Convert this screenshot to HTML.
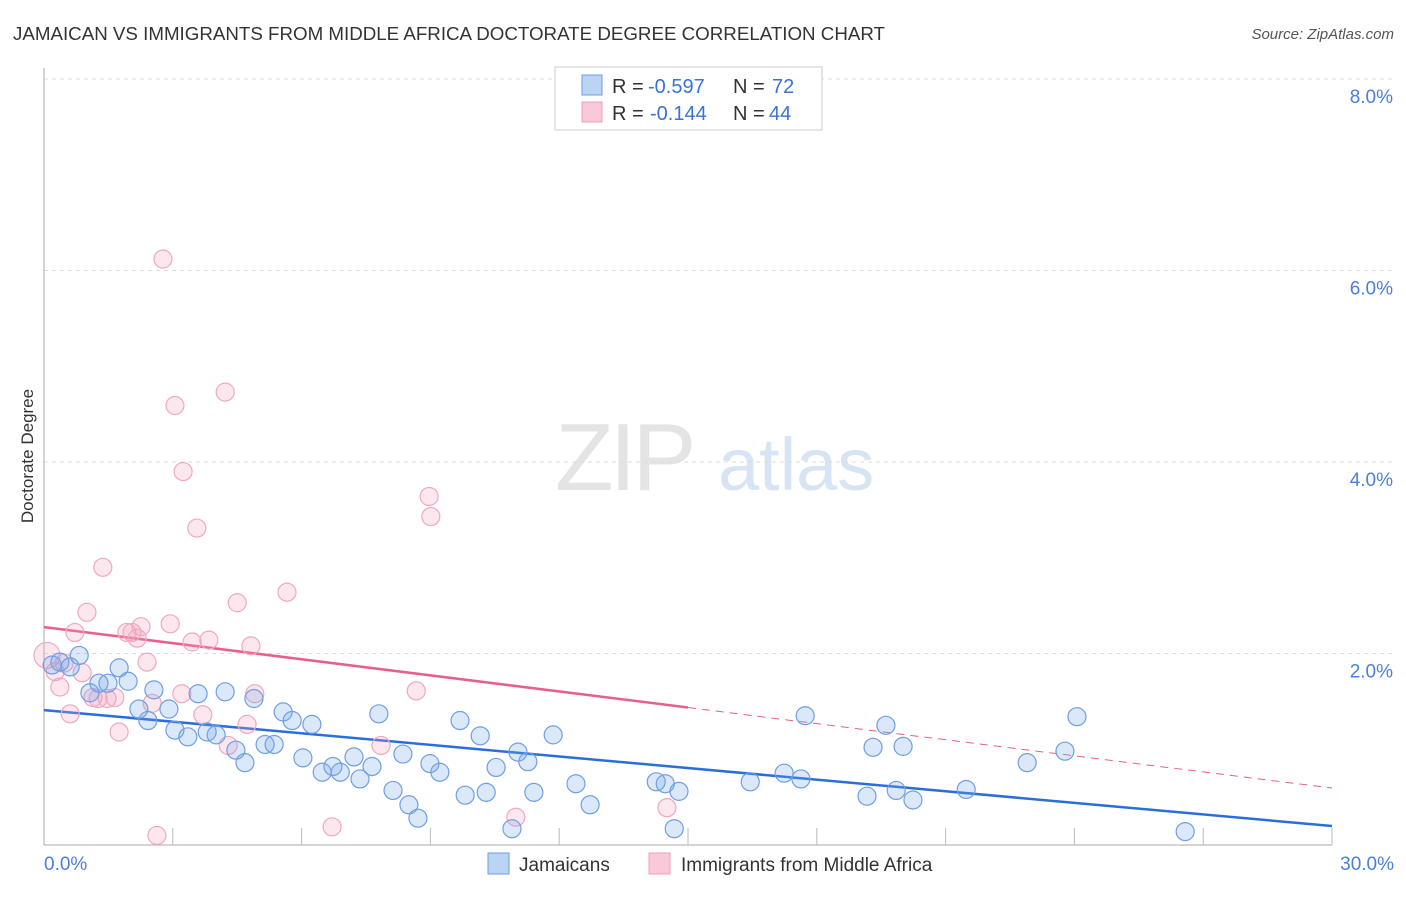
<!DOCTYPE html>
<html><head><meta charset="utf-8"><style>
body{margin:0;background:#fff;font-family:"Liberation Sans",sans-serif;}
svg text{font-family:"Liberation Sans",sans-serif;}
</style></head><body>
<svg id="chart" width="1406" height="892" viewBox="0 0 1406 892" xmlns="http://www.w3.org/2000/svg">
<text x="13" y="40" font-size="18" fill="#333" textLength="872" lengthAdjust="spacingAndGlyphs">JAMAICAN VS IMMIGRANTS FROM MIDDLE AFRICA DOCTORATE DEGREE CORRELATION CHART</text>
<text x="1394" y="39" font-size="15" fill="#555" text-anchor="end" font-style="italic">Source: ZipAtlas.com</text>
<g>
<text x="555" y="490" font-size="96" fill="#e4e4e4" font-family="Liberation Serif" letter-spacing="-4">ZIP</text>
<text x="718" y="490" font-size="74" fill="#d6e4f4">atlas</text>
</g>
<g id="grid"></g>
<g id="axes"></g>
<g id="lines"></g>
<g id="points"></g>
<text transform="translate(33,456) rotate(-90)" font-size="17" fill="#333" text-anchor="middle">Doctorate Degree</text>
<g>
<rect x="555" y="67" width="267" height="63" fill="#fff" stroke="#ccc"/>
<rect x="582" y="75" width="20" height="20" fill="#bcd4f4" stroke="#6a9be0"/>
<rect x="582" y="102" width="20" height="20" fill="#f9c9d7" stroke="#f0a0b8"/>
<text x="612" y="93" font-size="20" fill="#333">R =</text>
<text x="648" y="93" font-size="20" fill="#3a72d8">-0.597</text>
<text x="733" y="93" font-size="20" fill="#333">N =</text>
<text x="772" y="93" font-size="20" fill="#3a72d8">72</text>
<text x="612" y="120" font-size="20" fill="#333">R =</text>
<text x="650" y="120" font-size="20" fill="#3a72d8">-0.144</text>
<text x="733" y="120" font-size="20" fill="#333">N =</text>
<text x="769" y="120" font-size="20" fill="#3a72d8">44</text>
</g>
<g>
<rect x="488" y="853" width="21" height="21" fill="#bcd4f4" stroke="#6a9be0"/>
<text x="519" y="871" font-size="19" fill="#333">Jamaicans</text>
<rect x="649" y="853" width="21" height="21" fill="#f9c9d7" stroke="#f0a0b8"/>
<text x="681" y="871" font-size="19" fill="#333">Immigrants from Middle Africa</text>
</g>
</svg>
<script>
const xTickLabels=["0.0%","30.0%"];
const yTicks=[2,4,6,8];
const yTickLabels=["2.0%","4.0%","6.0%","8.0%"];
const blueX=[0.19,0.37,0.61,0.82,1.07,1.28,1.49,1.75,1.96,2.21,2.42,2.56,2.91,3.05,3.35,3.59,3.80,4.01,4.22,4.47,4.68,4.89,5.15,5.36,5.57,5.78,6.03,6.24,6.48,6.73,6.90,7.22,7.36,7.64,7.80,8.13,8.36,8.50,8.71,8.99,9.22,9.69,9.81,10.16,10.30,10.53,10.90,11.04,11.27,11.41,11.86,12.39,12.72,14.26,14.47,14.68,14.79,16.45,17.24,17.63,17.73,19.17,19.31,19.61,19.85,20.01,20.24,21.48,22.90,23.78,24.06,26.58];
const blueY=[1.88,1.91,1.86,1.98,1.59,1.69,1.69,1.85,1.71,1.42,1.30,1.62,1.42,1.20,1.13,1.58,1.18,1.15,1.60,0.99,0.86,1.53,1.05,1.05,1.39,1.30,0.91,1.26,0.76,0.82,0.76,0.92,0.69,0.82,1.37,0.57,0.95,0.42,0.28,0.85,0.76,1.30,0.52,1.14,0.55,0.81,0.17,0.97,0.87,0.55,1.15,0.64,0.42,0.66,0.64,0.17,0.56,0.66,0.75,0.69,1.35,0.51,1.02,1.25,0.57,1.03,0.47,0.58,0.86,0.98,1.34,0.14];
const pinkX=[0.07,0.26,0.37,0.61,0.72,1.00,0.89,1.14,1.26,1.37,1.47,1.65,1.75,1.93,2.05,2.17,2.26,2.40,2.52,2.63,2.77,2.94,3.05,3.21,3.24,3.45,3.56,3.70,3.84,4.22,4.29,4.50,4.73,4.82,4.91,5.66,6.71,7.85,8.67,8.97,9.01,10.99,14.51,0.47];
const pinkY=[1.98,1.81,1.65,1.37,2.22,2.43,1.80,1.54,1.53,2.90,1.53,1.54,1.18,2.22,2.22,2.16,2.28,1.91,1.48,0.10,6.12,2.31,4.59,1.58,3.90,2.12,3.31,1.36,2.14,4.73,1.04,2.53,1.26,2.08,1.58,2.64,0.19,1.04,1.61,3.64,3.43,0.29,0.39,1.90];
const blueTrend=[1.409,0.198];
const pinkTrend=[2.276,0.595];
const NS="http://www.w3.org/2000/svg";
const X0=44,X1=1332,Y0=845,Y8=79;
const sx=v=>X0+(v/30)*(X1-X0);
const sy=v=>Y0-(v/8)*(Y0-Y8);
function mk(tag,attrs,parent){const e=document.createElementNS(NS,tag);for(const k in attrs)e.setAttribute(k,attrs[k]);parent.appendChild(e);return e;}
const grid=document.getElementById('grid'),axes=document.getElementById('axes'),lines=document.getElementById('lines'),pts=document.getElementById('points');
yTicks.forEach((t,i)=>{
 const l=mk('line',{x1:X0,x2:1394,y1:sy(t),y2:sy(t),stroke:'#ddd','stroke-dasharray':'4,4'},grid);
 
 
 const tx=mk('text',{x:1393,y:sy(t)+24,'font-size':19,fill:'#4a7fdc','text-anchor':'end'},axes);
 tx.textContent=yTickLabels[i];
 
 
});
mk('line',{x1:X0,x2:X0,y1:68,y2:Y0,stroke:'#aaa'},axes);
mk('line',{x1:X0,x2:X1,y1:Y0,y2:Y0,stroke:'#aaa'},axes);
for(let v=3;v<=30;v+=3){
 const t=mk('line',{x1:sx(v),x2:sx(v),y1:828,y2:Y0,stroke:'#bbb'},axes);
 
 
}
[[0,'start',44],[30,'end',1394]].forEach((d,i)=>{
 const tx=mk('text',{x:d[2],y:870,'font-size':19,fill:'#4a7fdc','text-anchor':d[1]},axes);
 tx.textContent=xTickLabels[i];
 
 
});
function pt(x,y,fill,stroke,r,name){
 const c=mk('circle',{cx:sx(x),cy:sy(y),r:r,fill:fill,stroke:stroke,'stroke-width':1.2},pts);
 
 
}
pinkX.forEach((x,i)=>pt(x,pinkY[i],'rgba(244,160,188,0.25)','#f0a8c0',i===0?13:9,'point-middle-africa'));
blueX.forEach((x,i)=>pt(x,blueY[i],'rgba(110,165,235,0.25)','#6f9fe2',9,'point-jamaican'));
const tb=mk('line',{x1:sx(0),y1:sy(blueTrend[0]),x2:sx(30),y2:sy(blueTrend[1]),stroke:'#2a6fd8','stroke-width':2.5},lines);


const pm=v=>pinkTrend[0]+(pinkTrend[1]-pinkTrend[0])*v/30;
const tp=mk('line',{x1:sx(0),y1:sy(pm(0)),x2:sx(15),y2:sy(pm(15)),stroke:'#e8608a','stroke-width':2.5},lines);


const tpd=mk('line',{x1:sx(15),y1:sy(pm(15)),x2:sx(30),y2:sy(pm(30)),stroke:'#e8608a','stroke-width':1,'stroke-dasharray':'8,6'},lines);


</script>
</body></html>
